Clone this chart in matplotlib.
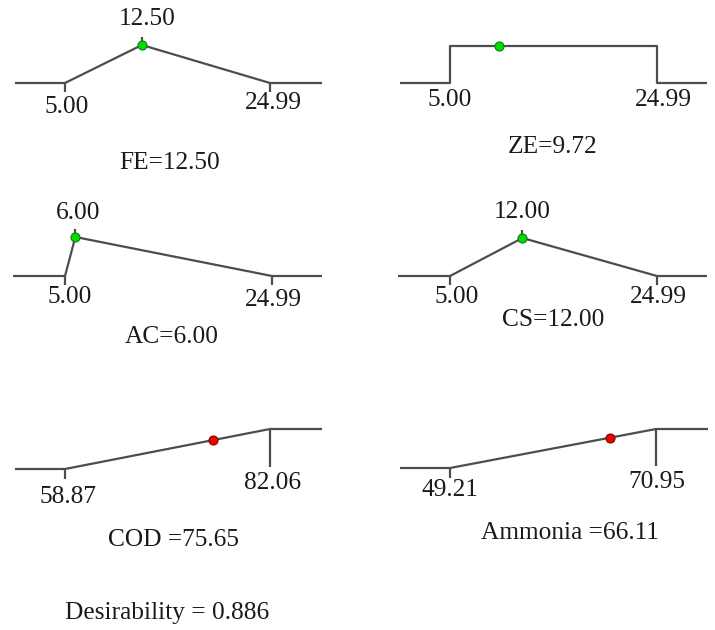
import matplotlib
matplotlib.use("Agg")
import matplotlib.pyplot as plt

plt.rcParams['font.family'] = ['Liberation Serif', 'DejaVu Serif']

# ---- data ----
names = ["FE", "ZE", "AC", "CS", "COD", "Ammonia"]
lows = [5.00, 5.00, 5.00, 5.00, 58.87, 49.21]
highs = [24.99, 24.99, 24.99, 24.99, 82.06, 70.95]
values = [12.50, 9.72, 6.00, 12.00, 75.65, 66.11]
kinds = ["target", "range", "target", "target", "maximize", "maximize"]
titles = ["FE=12.50", "ZE=9.72", "AC=6.00", "CS=12.00", "COD =75.65", "Ammonia =66.11"]
desirability_text = "Desirability = 0.886"

W, H = 715, 630
fig = plt.figure(figsize=(W / 100, H / 100), dpi=100)
fig.patch.set_facecolor("white")

# panel layout in pixels: line start, low corner, high corner, line end, baseline y, top y
layout = [
    (15, 65, 270, 322, 83, 45),
    (400, 450, 657, 707, 83, 46),
    (13, 65, 272, 322, 276, 237),
    (398, 450, 657, 707, 276, 238),
    (15, 65, 270, 322, 469, 429),
    (400, 450, 656, 708, 468, 429),
]
# label offsets (pixels, x right / y up) relative to the baseline corner / value point
low_off = [(2, -24), (0, -17), (5, -21), (7, -21), (3, -28), (0, -22)]
high_off = [(3, -20), (6, -17), (1, -24), (1, -21), (3, -14), (1, -14)]
val_off = [(5, 26), None, (3, 24), (0, 26), None, None]
title_pos = [(170, 163), (553, 147), (172, 337), (553, 320), (173, 540), (570, 533)]

LC = "#4d4d4d"
LW = 1.6
FS = 18.3
TC = "#1a1a1a"

for i in range(6):
    xs, xl, xh, xe, yb, yt = layout[i]
    lo, hi, v = lows[i], highs[i], values[i]
    s = (xh - xl) / (hi - lo)
    ax = fig.add_axes([xs / W, (H - yb) / H, (xe - xs) / W, (yb - yt) / H])
    ax.set_xlim(lo - (xl - xs) / s, hi + (xe - xh) / s)
    ax.set_ylim(0, 1)
    ax.axis("off")
    xmin, xmax = ax.get_xlim()
    upx = 1.0 / (yb - yt)  # y units per pixel
    kw = dict(color=LC, lw=LW, clip_on=False, solid_capstyle="butt")
    kind = kinds[i]
    if kind == "target":
        ax.plot([xmin, lo, v, hi, xmax], [0, 0, 1, 0, 0], **kw)
        ax.plot([lo, lo], [0, -9 * upx], **kw)
        ax.plot([hi, hi], [0, -9 * upx], **kw)
        ax.plot([v, v], [1, 1 + 8 * upx], **kw)
        yv = 1
        dot_c, dot_e = "#00dd00", "#127a12"
    elif kind == "range":
        ax.plot([xmin, lo, lo, hi, hi, xmax], [0, 0, 1, 1, 0, 0], **kw)
        yv = 1
        dot_c, dot_e = "#00dd00", "#127a12"
    else:
        ax.plot([xmin, lo, hi, xmax], [0, 0, 1, 1], **kw)
        ax.plot([lo, lo], [0, -10 * upx], **kw)
        ax.plot([hi, hi], [1, 0.05], **kw)
        yv = (v - lo) / (hi - lo)
        dot_c, dot_e = "#ee0000", "#8a0000"
    ax.plot([v], [yv], "o", ms=6.5, mfc=dot_c, mec=dot_e, mew=0.8, clip_on=False, zorder=5)

    ax.annotate(f"{lo:.2f}", xy=(lo, 0), xytext=low_off[i], textcoords="offset pixels",
                ha="center", va="center", fontsize=FS, color=TC)
    ax.annotate(f"{hi:.2f}", xy=(hi, 0), xytext=high_off[i], textcoords="offset pixels",
                ha="center", va="center", fontsize=FS, color=TC)
    if val_off[i] is not None:
        ax.annotate(f"{v:.2f}", xy=(v, 1), xytext=val_off[i], textcoords="offset pixels",
                    ha="center", va="center", fontsize=FS, color=TC)

    tx, ty = title_pos[i]
    fig.text(tx / W, (H - ty) / H, titles[i], ha="center", va="center", fontsize=FS, color=TC)

fig.text(167 / W, (H - 613) / H, desirability_text, ha="center", va="center", fontsize=FS, color=TC)

fig.savefig("out.png", dpi=100, facecolor="white")
